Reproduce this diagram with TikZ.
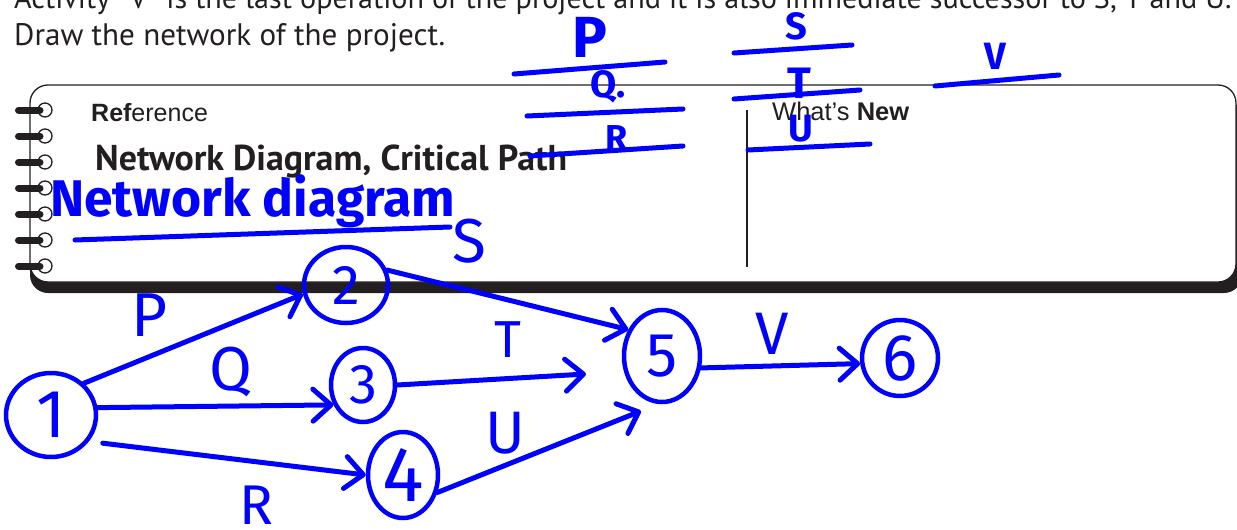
\documentclass[tikz,border=0pt]{standalone}
\usepackage{fontspec}
\usepackage{graphicx}
\usetikzlibrary{arrows.meta,shapes.geometric}
\newfontfamily\myr{PT Sans}
\newfontfamily\ari{Liberation Sans}
\newfontfamily\hand{Fira Sans}
\definecolor{ink}{HTML}{231F20}
\definecolor{pen}{RGB}{0,0,255}
\tikzset{
  stroke/.style={draw=pen, line width=5pt, line cap=round, line join=round},
  arr/.style={stroke, -{Straight Barb[length=18pt, width=32pt, round]}},
  evt/.style={ellipse, draw=pen, line width=4.5pt, inner sep=0pt, text=pen},
  lbl/.style={text=pen, inner sep=0pt},
  bar/.style={draw=ink, line width=7pt, line cap=round},
  ring/.style={draw=ink, line width=1.3pt},
  edge/.style={draw=ink, line width=1.3pt},
}
\newcommand{\hf}[1]{\hand\fontsize{#1}{#1}\selectfont}
\newcommand{\hfb}[1]{\hand\bfseries\fontsize{#1}{#1}\selectfont}
\begin{document}
\begin{tikzpicture}[x=1pt,y=-1pt]
\useasboundingbox (0,0) rectangle (1237,530);
\clip (0,0) rectangle (1237,530);

% printed question text
\node[anchor=base west, inner sep=0pt, text=ink] (q1) at (14,9)
  {\resizebox{1217pt}{!}{\myr Activity “V” is the last operation of the project and it is also immediate successor to S, T and U.}};
\node[anchor=base west, inner sep=0pt, text=ink] (q2) at (14,45.5)
  {\resizebox{431pt}{!}{\myr Draw the network of the project.}};

% notebook panel
\fill[ink, rounded corners=18pt] (30,100) rectangle (1242,293);
\draw[edge, fill=white, rounded corners=18pt] (30,85) rectangle (1236,282);
\draw[edge] (747,110) -- (747,267);
\foreach \yy in {110,136,162,188,214,240,266} {
  \draw[ring] (45,\yy) circle (7pt);
  \draw[bar] (18.5,\yy) -- (40,\yy);
}
\node[anchor=base west, inner sep=0pt, text=ink, font=\ari\fontsize{25}{25}\selectfont] (ref) at (91,121)
  {{\bfseries Ref}erence};
\node[anchor=base west, inner sep=0pt, text=ink] (title) at (95,170)
  {\resizebox{472pt}{!}{\myr\bfseries Network Diagram, Critical Path}};
\node[anchor=base west, inner sep=0pt, text=ink, font=\ari\fontsize{25.5}{25.5}\selectfont] (new) at (772,120)
  {What’s {\bfseries New}};

% handwritten heading
\node[anchor=base west, inner sep=0pt, text=pen] (hw) at (50,216)
  {\resizebox{405pt}{!}{\hand\bfseries Network diagram}};
\coordinate (ul1) at (75,240);
\coordinate (ul2) at (450,227);
\draw[stroke] (ul1) -- (ul2);

% handwritten predecessor table
\node[lbl, font=\hfb{58}] (tP) at (590,37) {P};
\node[lbl, font=\hfb{38}] (tQ) at (608,87) {Q.};
\node[lbl, font=\hfb{36}] (tR) at (617,138) {R};
\node[lbl, font=\hfb{38}] (tS) at (796,26) {S};
\node[lbl, font=\hfb{44}] (tT) at (799,83) {T};
\node[lbl, font=\hfb{38}] (tU) at (801,129) {U};
\node[lbl, font=\hfb{38}] (tV) at (995,56) {V};
\coordinate (a1) at (514,74);  \coordinate (b1) at (665,62);
\coordinate (a2) at (527,116); \coordinate (b2) at (683,109);
\coordinate (a3) at (530,156); \coordinate (b3) at (683,146);
\coordinate (a4) at (734,53);  \coordinate (b4) at (852,45);
\coordinate (a5) at (734,99);  \coordinate (b5) at (860,90);
\coordinate (a6) at (748,150); \coordinate (b6) at (870,144);
\coordinate (a7) at (935,86);  \coordinate (b7) at (1059,75);
\foreach \i in {1,...,7} { \draw[stroke] (a\i) -- (b\i); }

% network
\node[evt, minimum width=90pt, minimum height=84pt, font=\hf{68}] (n1) at (51,415) {1};
\node[evt, minimum width=84pt, minimum height=76pt, font=\hf{56}] (n2) at (346,285) {2};
\node[evt, minimum width=64pt, minimum height=74pt, font=\hf{56}] (n3) at (363,385) {3};
\node[evt, minimum width=70pt, minimum height=86pt, font=\hf{78}] (n4) at (403,475) {4};
\node[evt, minimum width=76pt, minimum height=92pt, font=\hf{62}] (n5) at (662,356) {5};
\node[evt, minimum width=76pt, minimum height=76pt, font=\hf{66}] (n6) at (900,358) {6};
\coordinate (tEnd) at (586,374);
\coordinate (uEnd) at (641,411);

\draw[arr] (n1.44) -- (n2.192);
\draw[arr] (n1.9) -- (n3.214);
\draw[arr, shorten <=14pt] (n1.-35) -- (n4.180);
\draw[arr] (n2.20) -- (n5.142);
\draw[arr] (n3.0) -- (tEnd);
\draw[arr] (n4.-27) -- (uEnd);
\draw[arr] (n5.-17) -- (n6.188);

\node[lbl, font=\hf{62}] (lP) at (150,315) {P};
\node[lbl, font=\hf{62}] (lQ) at (231,372) {Q};
\node[lbl, font=\hf{56}] (lR) at (256,505) {R};
\node[lbl, font=\hf{62}] (lS) at (469,241) {S};
\node[lbl, font=\hf{52}] (lT) at (508,340) {T};
\node[lbl, font=\hf{60}] (lU) at (505,433) {U};
\node[lbl, font=\hf{60}] (lV) at (772,334) {V};
\end{tikzpicture}
\end{document}
